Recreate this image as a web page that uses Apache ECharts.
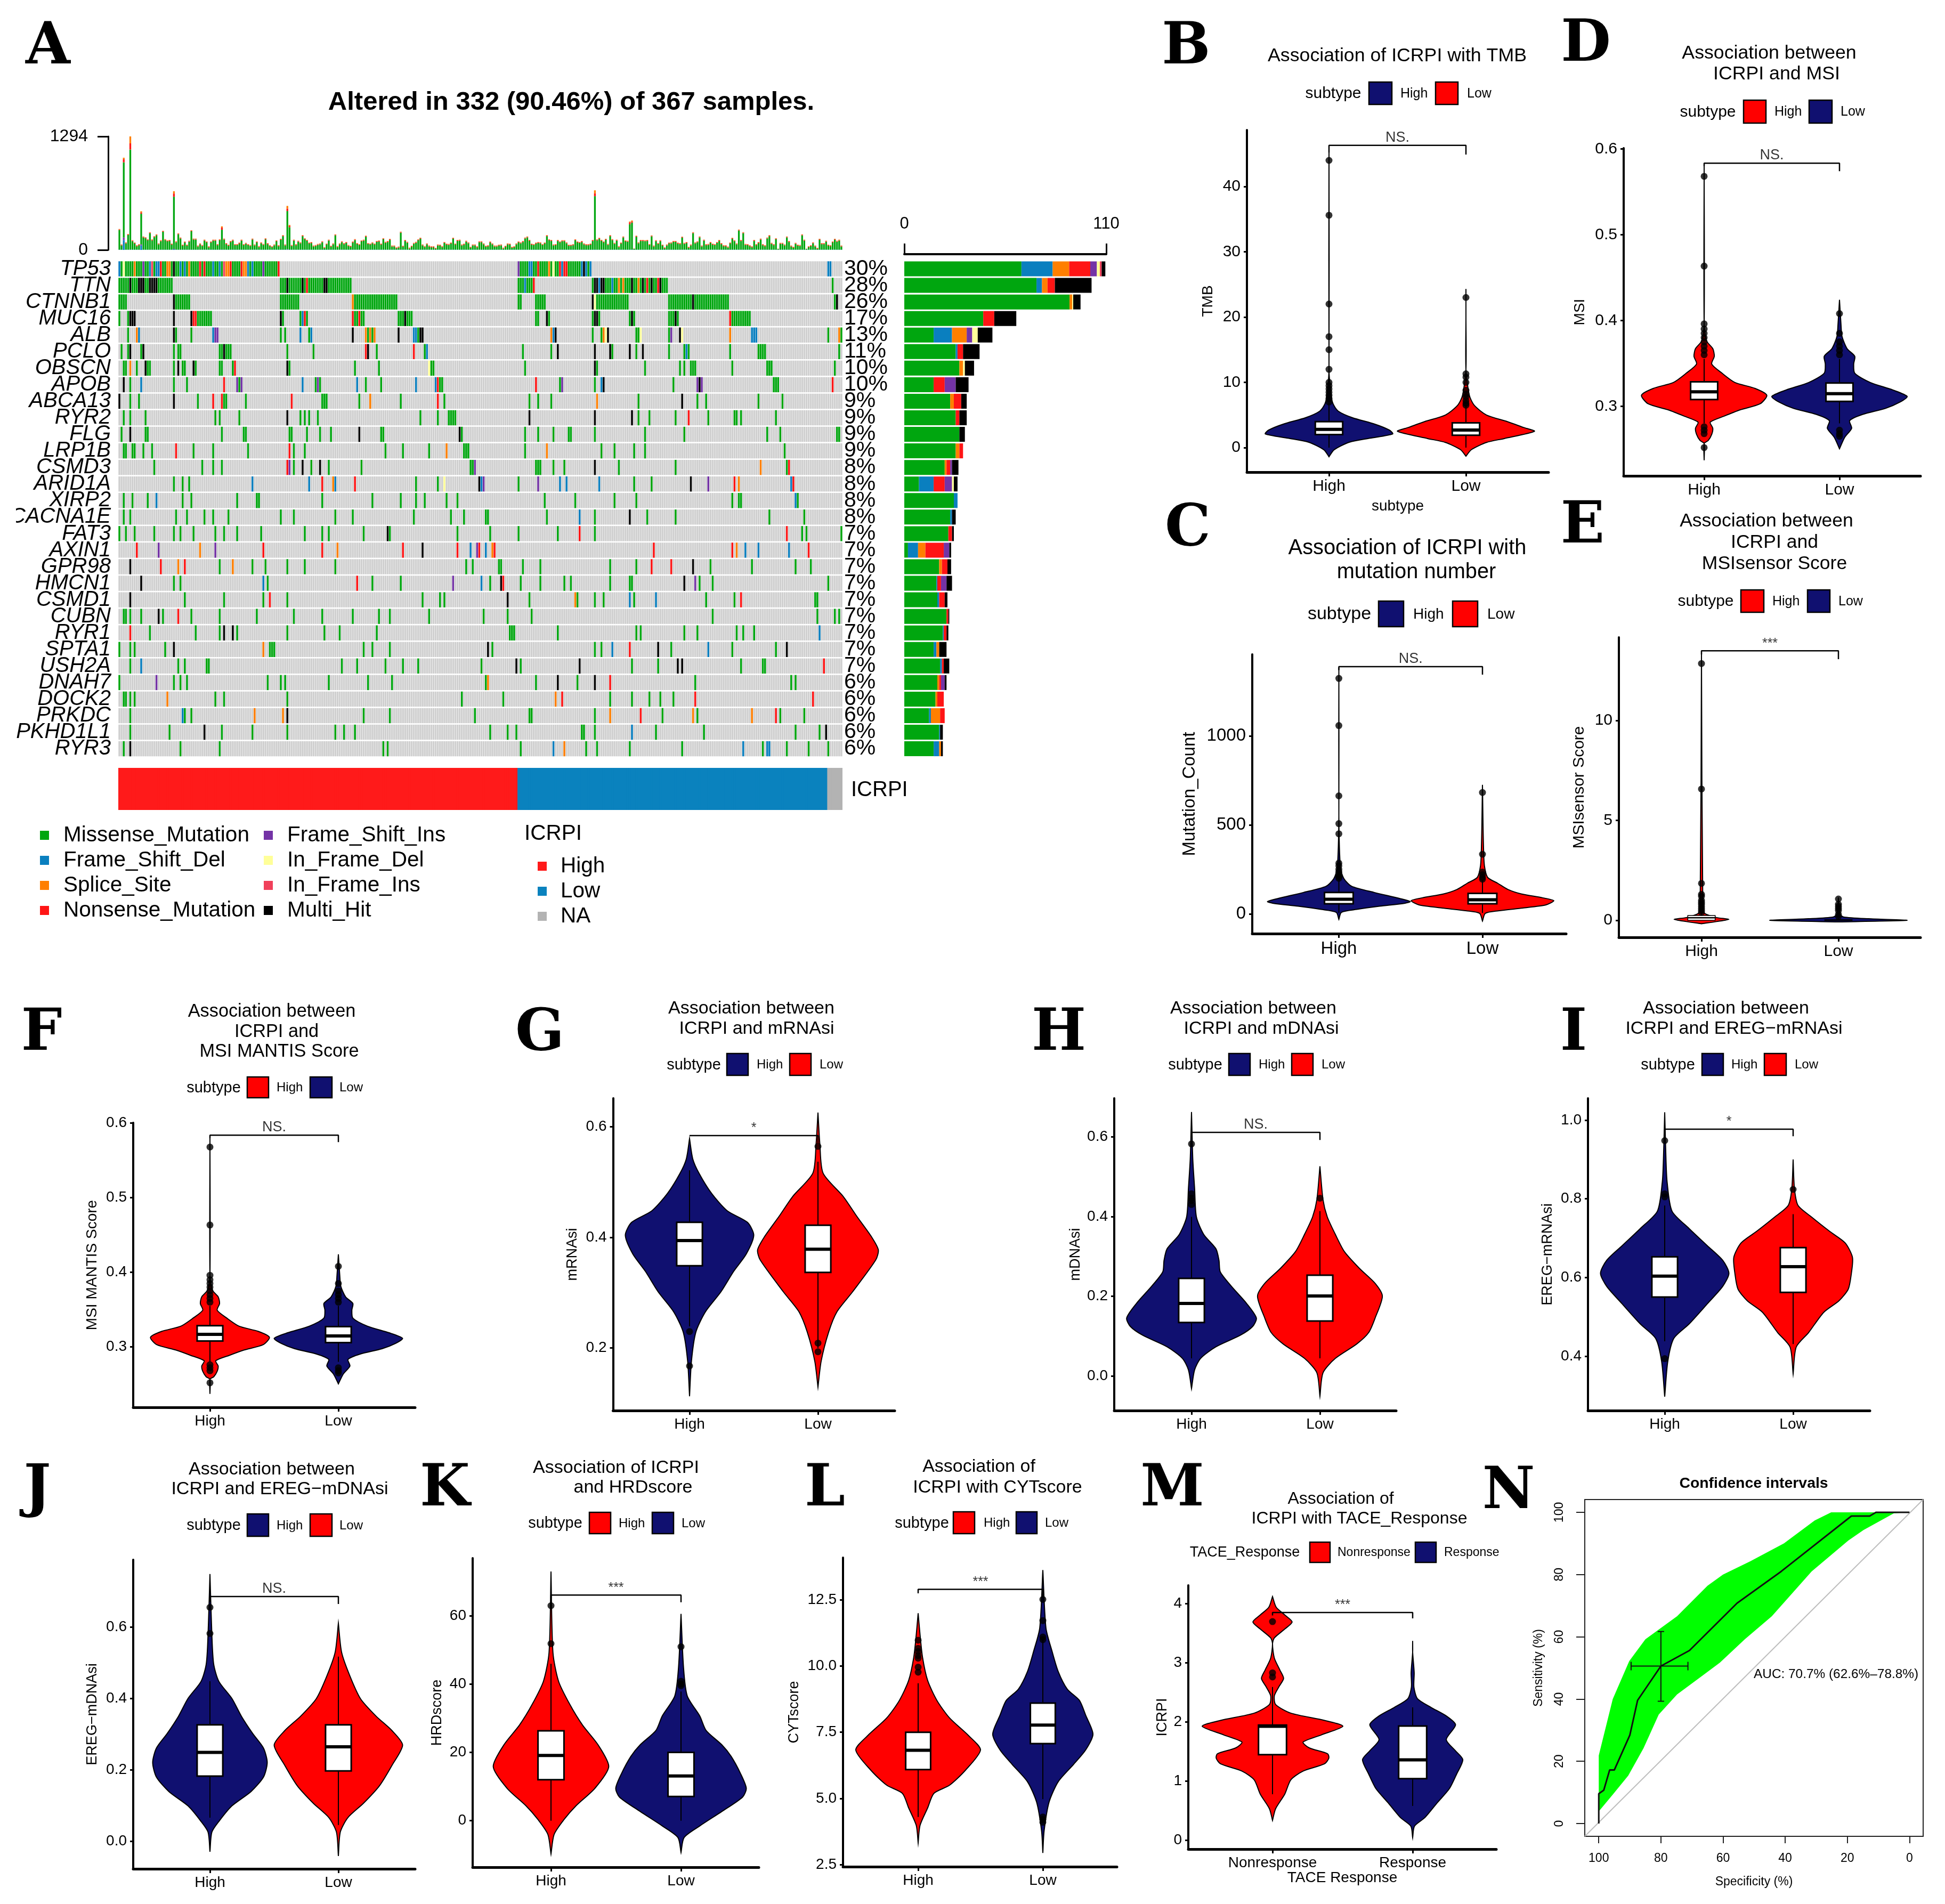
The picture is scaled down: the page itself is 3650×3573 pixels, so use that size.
<!DOCTYPE html>
<html><head><meta charset="utf-8">
<script src="https://cdn.jsdelivr.net/npm/echarts@6/dist/echarts.min.js"></script>
<style>html,body{margin:0;padding:0;background:#fff}#c{width:3650px;height:3573px}</style>
</head><body><div id="c"></div>
<script>
// ---------- Panel A data ----------
const genes=["TP53","TTN","CTNNB1","MUC16","ALB","PCLO","OBSCN","APOB","ABCA13","RYR2","FLG","LRP1B","CSMD3","ARID1A","XIRP2","CACNA1E","FAT3","AXIN1","GPR98","HMCN1","CSMD1","CUBN","RYR1","SPTA1","USH2A","DNAH7","DOCK2","PRKDC","PKHD1L1","RYR3"];
const genePct=[30,28,26,17,13,11,10,10,9,9,9,9,8,8,8,8,7,7,7,7,7,7,7,7,7,6,6,6,6,6];
const typeNames=["Missense_Mutation","Frame_Shift_Del","Splice_Site","Nonsense_Mutation","Frame_Shift_Ins","In_Frame_Del","In_Frame_Ins","Multi_Hit"];
const typeCodes="MDSNIYPH";
const typeColors=["#00A60F","#0A7FBF","#FF7F00","#FF1515","#7433A6","#FFFF99","#F0405A","#000000"];
const geneMarks=[
"0D 1M 2Y 3-6M 7S 8-10M 11I 12-13M 14D 15P 16M 17-18D 19N 20-21M 22-23S 24M 25H 26-27M 28D 29M 30D 31M 32S 33-36M 37N 38M 39N 40-42M 43D 44-45M 46D 47M 48P 49-50S 51N 52-55M 56N 57-58S 59D 60M 61D 62-65M 66I 67-72M 73N 183I 184-187M 188-189D 190-191M 192N 193-196M 197S 198M 199Y 200-201M 202N 203D 204-205N 206-211M 212D 213H 214D 215M 216D 325-326D",
"0-4M 5H 6-8M 9-11H 12-13M 14-17H 18-24M 74-76M 77H 78-83M 84H 85M 86N 87-93M 94-95H 96-106M 183-185M 186D 187-189M 190N 217M 218-219H 220D 221-222H 223-225M 226D 227-228M 229S 230M 231S 232-234M 235H 236-237M 238S 239M 240H 241M 242N 243M 244H 245-246M 247N 248H 249-251M 327M",
"0-3M 25H 26-32M 74-82M 107S 108-127M 183-184M 191-195M 217H 218Y 219-233M 252-262M 263H 264-279M 328M 329H",
"0M 4M 5-7H 25H 33H 34-35N 36-42M 74H 75M 83M 84D 85N 86M 107N 108-109M 110N 111-112M 128-130M 131H 132-134M 191-192M 196H 197M 217M 218-219H 220M 234M 235H 236M 252-254M 255H 256M 280N 281-289M",
"4M 8S 9D 25H 26M 33M 43D 44-45I 74M 76M 83D 87M 88D 107H 113S 114M 115S 116M 117S 128H 135-136D 137M 138-139H 198S 199D 200H 217M 221M 222S 223Y 224H 237-238M 239Y 252M 253I 257H 258Y 280S 290-292D 325M 330S 331M",
"1M 4M 5H 10M 11H 25M 27-28M 46-47M 48H 49-51M 77M 89M 113N 114H 118M 135N 140M 141D 185M 198M 201H 218H 225H 226M 234H 237M 240H 252M 259M 260D 261M 280M 293-296M 330M",
"2-3M 5S 8M 12H 13-14M 25M 27H 29-30M 34H 35M 46-47M 52M 53N 77H 78M 108M 119M 142Y 143-144M 186M 218H 219M 241M 257M 259M 262-264M 281M 297-299M 328M",
"2H 5M 10D 25M 31M 48N 54I 55M 56I 84D 90M 91I 92M 109D 113M 120M 136D 145D 146N 147-148M 191N 202M 203I 218M 221D 222H 254M 265I 266H 267I 300-302M 327N",
"0H 5M 9M 25H 36M 43N 47N 48-49M 58M 79N 93-95M 110M 115S 129M 146N 149M 188M 192M 198M 219S 238M 258H 265M 269M 293M 304M",
"2M 5M 12M 44M 46M 55M 77H 83M 85M 87M 91M 138M 146M 151-154M 188H 218H 235H 238M 243M 255M 261N 270M 282-283M 285M 301M",
"1M 5H 12-13M 47M 57-58M 78-79M 86M 92M 97M 110H 120-121M 156H 157M 186M 192M 199M 206-207M 218M 241M 259M 297M 303M 329-330M",
"2-3M 6-7M 11M 15M 26N 34M 43M 59M 78N 80M 85M 122M 130M 142M 150S 158-160M 186M 196S 221M 227M 236M 241M 305M",
"16M 38M 43M 47M 77N 78I 80M 84H 88M 92H 96M 111M 161-162M 163I 191-193M 199M 204M 218H 229M 255M 294S 306M 307N",
"25M 29M 32M 61D 87D 93N 98S 99D 108N 136M 146M 149Y 165H 166D 167I 183M 192I 202D 205D 220D 236M 244M 262H 270I 282N 284S 308D 309N",
"2M 6M 13M 17D 29M 33M 54M 63-64M 93M 116M 129M 136M 140M 150M 155M 195M 209M 227M 237M 281M 284-285M 310D 311M",
"2M 5M 26M 31M 39M 43M 50M 74M 80M 99M 107M 135M 152M 158M 168-169M 196M 211D 218M 234H 242M 255M 298M 314M",
"0M 3M 7M 16M 25M 28M 34M 44M 48M 54M 65M 85M 93M 96M 112M 123H 124M 155M 170M 183M 201M 211N 218M 306N 313M 315M 331M",
"8N 18I 37S 44I 66N 93N 100S 130N 139H 155N 161D 164I 165N 168D 171S 172N 245N 281N 283S 287D 293D 307D 316N",
"5H 19N 27S 30N 46M 52S 61M 67M 77M 85M 99M 159M 162M 174-175M 185M 193M 225M 237M 244N 253N 263H 271M 290M 310M 317M",
"10H 25M 28M 66D 68M 109N 116M 129M 153I 166D 170M 175H 176N 184M 193M 204M 207M 225M 234-235M 259H 264I 266M 272M 325M",
"5H 30M 48M 66M 69N 77M 139M 147M 149M 178H 188M 209S 210M 218M 222M 234D 236M 246D 269M 282M 285N 319-320M",
"2-3M 5M 10M 18H 20M 27N 33M 46M 63M 80M 93M 107M 119M 124M 142M 167M 178M 189M 272M 320M 328M 330M",
"5N 14M 35M 46M 48H 52H 54M 77M 94M 101M 118M 179-181M 201M 237M 239M 259M 265M 283M 286M 291M 321D",
"0M 5M 7M 21M 25H 66S 69-71M 112M 116M 124M 169H 171M 218M 221M 226D 234N 247H 253M 270D 281M 301M 306H",
"5M 10D 27M 30M 40-41M 102M 109M 122M 130M 137M 166M 182H 184M 211H 235M 247M 256H 258H 285M 295-296M 323N",
"0M 17I 25M 28M 31M 68M 74M 76M 96M 114M 125M 168M 169S 191M 201H 210M 218H 225N 264M 308M 310M",
"2-3M 5M 7M 22S 44M 48M 77M 157M 176M 200S 203N 225M 235M 243M 248M 254M 264N 318N",
"5M 29D 30M 33M 62S 75S 77H 112M 124M 163M 188-189M 218M 225S 239N 249M 263S 265M 290S 301N 303M 314M",
"5M 23M 39H 47M 61M 77M 99M 103M 108M 170M 178M 182M 212-213M 218M 235D 246M 268M 310M 321M 324H",
"2M 5H 28M 46M 121M 123M 184M 199D 204S 214M 219M 234M 258M 286D 295M 297-298D 306M 316M 325M"];
// gene totals per mutation type (M,D,S,N,I,Y,P,H)
const geneTypeCounts=[[63.8,17,9,11.5,3.6,1.6,1,2],[72,3,3,4,0,0,0,20],[90,0,1.5,0,0,0.5,0,4],[43,0,0,6,0,0,0,12],[16,10,8,0,3,3,0,8],[28,1,0,3,0,0,0,9],[30,0,2,0,0,1,0,5],[16,0,0,6,6,0,0,7],[25,0,2,4,0,0,0,3],[28,0,0,2,0,0,0,4],[30,0,0,0,0,0,0,3],[28,0,2,2,0,0,0,0],[22,0,1,2,1,0,0,3.5],[8,8,0,6,4,1,0,2],[27,2,0,0,0,0,0,0],[25,1,0,0,0,0,0,2],[24,0,0,2,0,0,0,1],[2,5.5,4,10,3,0,0,1],[19,0,1.5,3,0,0,0,2],[17.5,0.5,0,2,3,0,0,3],[18,1,0,3,0,0,0,1.5],[23,0,0,1,0,0,0,0.5],[21,0.5,0,1.5,0,0,0,1],[16,1.5,1.5,0,0,0,0,4],[19.5,1,0,1,0,0,0,3],[18,0,1,1,2,0,0,1],[17,0,1,3.5,0,0,0,0],[13.5,1,5,2.5,0,0,0,0],[19,0.5,0,0,0,0,0,1.5],[16,3,1,0,0,0,0,1]];
// per-sample burden, read in crop pixels (1294 mutations = 640 px)
const burdenReadings=[118,31,520,43,90,640,55,42,26,32,218,76,71,60,100,59,77,88,37,55,108,61,54,56,36,331,49,94,70,30,47,30,52,111,64,64,25,37,28,58,48,20,48,58,58,32,60,133,64,38,29,50,58,33,33,41,58,33,40,33,28,64,31,48,22,43,34,65,38,27,21,31,54,26,63,83,31,248,141,28,58,32,52,43,83,66,57,42,44,25,28,34,37,49,16,36,58,24,37,88,22,37,49,38,45,28,23,47,61,39,33,54,58,80,39,36,43,36,51,53,36,66,46,50,62,25,25,14,19,103,24,56,46,13,24,40,46,60,69,31,22,37,25,20,20,12,31,30,22,45,35,34,42,69,36,56,58,31,35,52,43,18,31,31,20,49,
49,37,24,26,47,37,25,25,30,31,13,23,37,35,18,21,37,48,43,50,70,76,57,35,33,41,45,43,33,42,83,60,56,31,33,56,48,55,55,43,29,29,32,60,48,45,50,37,32,32,36,56,336,59,68,57,48,63,34,83,61,40,58,22,42,76,54,52,160,166,8,80,43,56,56,55,56,33,82,25,55,39,55,30,14,31,42,43,51,51,41,38,75,40,44,18,31,100,43,49,76,25,58,32,34,45,35,33,45,56,38,26,26,19,42,68,55,37,115,56,100,34,33,26,20,56,32,44,64,32,26,70,83,40,32,66,7,40,40,31,76,50,25,18,40,30,28,88,58,7,21,27,43,25,12,63,38,38,52,30,26,48,63,52,58,25];
const burdenPerReading=1294/640;
const burdenSpikes={2:[17,9,55,15],5:[35,39,2,0],10:[7,7,25,6],25:[18,13,3,3],47:[12,7,2,0],77:[14,15,2,2],78:[8,5,2,0],218:[16,17,2,0],234:[10,5,2,0],235:[6,6,2,0]}; // red, orange, blue, purple
const annotationNames=["High","Low","NA"];
const annotationCounts=[183,142,7];
const annotationColors=["#FF1A1A","#0A82BE","#B3B3B3"];

// ---------- Violin data: [value, half width in x units] ----------
const tmbHigh=[[-1.4,0],[-.33,.037],[.84,.15],[1.45,.3],[2.1,.465],[2.7,.44],[3.6,.335],[4.6,.17],[5.6,.067],[6.7,.03],[8.1,.015],[12,.004],[46.2,.002]];
const tmbLow=[[-1.3,0],[-.3,.04],[.8,.15],[1.4,.28],[2.5,.5],[3.1,.42],[4,.3],[5,.15],[6.5,.06],[8,.025],[12,.005],[20,.003],[24.3,0]];
const msiHigh=[[.2369,0],[.2565,.008],[.26,.03],[.2672,.056],[.2743,.064],[.2814,.045],[.2886,.15],[.2957,.264],[.3029,.414],[.3128,.463],[.3207,.377],[.3278,.226],[.3385,.132],[.3492,.056],[.3582,.075],[.3671,.064],[.376,.019],[.3956,.008],[.5836,.004]];
const msiLow=[[.2504,0],[.2636,.038],[.2743,.09],[.2832,.075],[.2904,.17],[.2975,.34],[.3046,.444],[.3114,.5],[.3189,.395],[.3278,.226],[.3385,.113],[.3492,.105],[.3582,.113],[.3671,.056],[.3813,.019],[.3956,.011],[.4241,0]];
const countHigh=[[-31,0],[8.6,.018],[25,.124],[43,.284],[60,.461],[69,.497],[86,.426],[120,.248],[155,.089],[198,.035],[258,.011],[550,.007],[1383,.0035]];
const countLow=[[-40,0],[3,.02],[17,.11],[33,.28],[50,.44],[74,.497],[90,.42],[112,.27],[137,.177],[172,.106],[206,.035],[292,.011],[725,0]];
const sensorHigh=[[-.17,0],[-.06,.11],[.05,.2],[.14,.11],[.32,.03],[.47,.01],[13.5,.004]];
const sensorLow=[[-.08,0],[0,.5],[.08,.22],[.17,.037],[.32,.011],[1.15,0]];
const mrnaHigh=[[.1128,0],[.1765,.015],[.2287,.049],[.2653,.123],[.3018,.245],[.3384,.343],[.3697,.441],[.4037,.5],[.4272,.451],[.448,.294],[.4794,.172],[.5159,.074],[.542,.025],[.5786,.005]];
const mrnaLow=[[.1295,0],[.1765,.025],[.2287,.083],[.2653,.147],[.3018,.27],[.3593,.45],[.3775,.47],[.401,.417],[.4376,.304],[.4742,.196],[.516,.04],[.568,.015],[.6256,0]];
const mdnaHigh=[[-.032,0],[.015,.024],[.044,.071],[.073,.19],[.102,.38],[.124,.476],[.1455,.505],[.1818,.429],[.225,.31],[.261,.224],[.29,.214],[.319,.19],[.355,.095],[.399,.038],[.471,.024],[.544,.01],[.662,0]];
const mdnaLow=[[-.051,0],[.008,.024],[.044,.12],[.08,.286],[.109,.38],[.1455,.43],[.2,.486],[.232,.43],[.269,.31],[.312,.19],[.355,.12],[.399,.057],[.442,.024],[.526,0]];
const eregmHigh=[[.2972,0],[.3868,.024],[.4455,.071],[.482,.19],[.5337,.333],[.5777,.452],[.6108,.5],[.6438,.452],[.6806,.333],[.7246,.19],[.7687,.057],[.842,.019],[.9,.01],[1.02,0]];
const eregmLow=[[.3552,0],[.4235,.024],[.46,.12],[.5116,.238],[.541,.357],[.5704,.429],[.607,.452],[.6512,.462],[.688,.405],[.717,.286],[.754,.143],[.7834,.038],[.827,.01],[.9,0]];
const eregdHigh=[[-.029,0],[.026,.015],[.058,.074],[.099,.17],[.1395,.32],[.18,.417],[.2206,.446],[.261,.417],[.3017,.333],[.35,.245],[.399,.172],[.4477,.069],[.496,.029],[.5775,.015],[.7478,0]];
const eregdLow=[[-.041,0],[.026,.015],[.0665,.074],[.107,.196],[.1557,.32],[.2125,.417],[.2693,.5],[.31,.417],[.35,.294],[.399,.172],[.464,.088],[.529,.025],[.61,0]];
const hrdHigh=[[-9.7,0],[-4,.024],[.2,.097],[4.4,.193],[9.5,.338],[15.8,.444],[22.2,.362],[28,.242],[34,.145],[40.8,.058],[49.2,.015],[72.9,0]];
const hrdLow=[[-9.3,0],[-4.9,.024],[-1.5,.145],[2.7,.314],[6.9,.473],[9.5,.502],[13.7,.459],[18.8,.386],[22.2,.314],[26.4,.193],[30.6,.145],[36.5,.048],[45,.019],[60.5,0]];
const cytHigh=[[3.32,0],[3.98,.015],[4.64,.076],[5.19,.126],[5.5,.252],[6.06,.378],[6.83,.5],[7.38,.403],[8.04,.252],[8.7,.151],[9.46,.076],[10.34,.035],[11.2,.015],[12,0]];
const cytLow=[[2.94,0],[3.76,.01],[4.86,.05],[5.63,.123],[6.28,.245],[6.83,.343],[7.43,.402],[8.15,.343],[8.7,.294],[9.13,.196],[9.8,.123],[10.56,.074],[11.44,.025],[13.63,0]];
const taceNon=[[.333,0],[.53,.022],[.775,.087],[1.02,.131],[1.167,.218],[1.29,.371],[1.387,.402],[1.46,.393],[1.56,.262],[1.657,.218],[1.78,.349],[1.926,.502],[2.025,.371],[2.147,.131],[2.294,.022],[2.44,.013],[2.588,.044],[2.735,.079],[2.88,.052],[3.08,.013],[3.32,.003],[3.42,.013],[3.57,.087],[3.69,.14],[3.81,.087],[3.94,.026],[4.12,0]];
const taceRes=[[.04,0],[.235,.013],[.38,.087],[.63,.175],[.87,.262],[1.118,.314],[1.36,.358],[1.51,.306],[1.7,.24],[1.95,.306],[2.1,.24],[2.245,.131],[2.39,.035],[2.59,.009],[2.83,.011],[3.18,.004],[3.37,0]];
// ---------- Outlier values ----------
const tmbOutHigh=[44,35.6,22,17,15,12,10,9.5,9,8.5,8,7.5,7];
const tmbOutLow=[23,11.3,10.8,10,8.8,8.2,7.8,7.2,6.8,6.5];
const msiOutHigh=[.568,.4634,.396,.39,.385,.38,.375,.37,.365,.36,.276,.272,.268,.2518];
const msiOutLow=[.408,.385,.375,.37,.365,.36,.272,.268,.265];
const countOutHigh=[1323,1058,663,507,450,285,270,250,235,220,210,200];
const countOutLow=[682,335,235,220,205,195];
const sensorOutHigh=[12.85,6.57,1.85,1.3,1.2,1,.9,.8,.7,.6,.5,.4];
const sensorOutLow=[1.07,.8,.7,.6,.5,.3,.2];
const mrnaOutHigh=[.2298,.1676];const mrnaOutLow=[.5645,.2089,.1932];
const mdnaOutHigh=[.582,.457,.446,.44,.43];const mdnaOutLow=[.446];
const eregmOutHigh=[.9479,.8128,.805,.394];const eregmOutLow=[.824];
const eregdOutHigh=[.6545,.5815];
const hrdOutHigh=[62.9,51.8];const hrdOutLow=[50.9,40.8,40,39.5];
const cytOutHigh=[10.98,10.67,10.55,10.4,10.3,9.96,9.77];const cytOutLow=[12.52,11.72,11.1,11,4.3,4.2,4.1];
const taceOutHigh=[3.696,2.83,2.76];
// ---------- ROC ----------
const rocLine=[[100,0],[100,9.6],[98.4,10.7],[96.5,17.2],[95,17.2],[90,28.4],[87.5,39.6],[80,50.6],[70.8,55.6],[55.5,70.8],[41.3,81],[18.7,98.8],[12.8,98.8],[10.8,100],[0,100]];
const rocUpper=[[100,21.9],[95.5,40],[90.2,52.2],[85,59.2],[74.8,66.6],[65,76.4],[60,80],[51.2,84.3],[40.4,90],[30.5,97.4],[25.2,100],[0,100]];
const rocLower=[[100,3.9],[95.5,9.3],[90.5,15.4],[85.6,24.2],[80.7,35],[74.8,41.5],[66,48],[61,51.7],[53,59.2],[44.3,66.6],[31.5,81],[19.7,90.9],[14.8,94.3],[5,99.7],[0,100]];
const rocCross=[80,50.6,89.6,71.3,61.7,39.3];
const rocTicks=[0,20,40,60,80,100];

const NAVY="#101070",RED="#FF0000",FONT="Liberation Sans";
// box: [low whisker,q1,median,q3,high whisker]
const panels=[
{rect:[2340,244,2906,886],xt:[2494,2751],y:[-3.75,48.65],ticks:[0,10,20,30,40],dec:0,name:"TMB",gap:59,nfs:28,fs:30,xfs:30,xname:"subtype",xnameGap:50,cols:[NAVY,RED],v:[tmbHigh,tmbLow],box:[[0,2,2.8,3.98,6.9],[0,1.9,2.7,3.8,6.5]],out:[tmbOutHigh,tmbOutLow],br:[46.3,45.2,44.9],sig:"NS."},
{rect:[3047,278,3604,893],xt:[3198,3452],y:[.2188,.6009],ticks:[.3,.4,.5,.6],dec:1,name:"MSI",gap:68,nfs:28,fs:30,xfs:30,cols:[RED,NAVY],v:[msiHigh,msiLow],box:[[.28,.3078,.3168,.3285,.355],[.28,.3057,.3146,.3271,.355]],out:[msiOutHigh,msiOutLow],br:[.5834,.58,.5741],sig:"NS."},
{rect:[2350,1228,2939,1752],xt:[2512.5,2782],y:[-111,1458],ticks:[0,500,1000],dec:0,name:"Mutation_Count",gap:101,nfs:33,fs:33,xfs:33,cols:[NAVY,RED],v:[countHigh,countLow],box:[[5,57,82,120,195],[5,57,79,115,190]],out:[countOutHigh,countOutLow],br:[1389,1370,1344],sig:"NS."},
{rect:[3038,1196,3604,1759],xt:[3193,3450],y:[-.85,14.16],ticks:[0,5,10],dec:0,name:"MSIsensor Score",gap:59,nfs:30,fs:30,xfs:30,cols:[RED,NAVY],v:[sensorHigh,sensorLow],box:[[0,0,.13,.24,.4],[0,0,.01,.03,.1]],out:[sensorOutHigh,sensorOutLow],br:[13.49,13.3,13.07],sig:"***"},
{rect:[250,2107,779,2641],xt:[394,635],y:[.2189,.6005],ticks:[.3,.4,.5,.6],dec:1,name:"MSI MANTIS Score",gap:63,nfs:28,fs:28,xfs:28,cols:[RED,NAVY],v:[msiHigh,msiLow],box:[[.28,.3078,.3168,.3285,.355],[.28,.3057,.3146,.3271,.355]],out:[msiOutHigh,msiOutLow],br:[.5839,.58,.5746],sig:"NS."},
{rect:[1150.5,2061,1679,2647],xt:[1294,1535],y:[.087,.6515],ticks:[.2,.4,.6],dec:1,name:"mRNAsi",gap:62,nfs:27,fs:28,xfs:28,cols:[NAVY,RED],v:[mrnaHigh,mrnaLow],box:[[.2392,.3488,.3943,.4272,.5211],[.2,.3368,.3786,.4219,.5368]],out:[mrnaOutHigh,mrnaOutLow],br:[.5841,.5841,.57],sig:"*"},
{rect:[2091,2061,2620,2647],xt:[2236,2477],y:[-.0869,.6965],ticks:[0,.2,.4,.6],dec:1,name:"mDNAsi",gap:59,nfs:27,fs:28,xfs:28,cols:[NAVY,RED],v:[mdnaHigh,mdnaLow],box:[[.044,.134,.1818,.2447,.399],[.044,.1376,.2006,.2527,.4135]],out:[mdnaOutHigh,mdnaOutLow],br:[.611,.6,.592],sig:"NS."},
{rect:[2980,2061,3509,2647],xt:[3124,3365],y:[.262,1.0556],ticks:[.4,.6,.8,1],dec:1,name:"EREG\u2212mRNAsi",gap:62,nfs:27,fs:28,xfs:28,cols:[NAVY,RED],v:[eregmHigh,eregmLow],box:[[.438,.5506,.6035,.6527,.783],[.431,.5623,.6277,.6762,.761]],out:[eregmOutHigh,eregmOutLow],br:[.977,.96,.959],sig:"*"},
{rect:[250,2927,779,3507],xt:[394,635],y:[-.0767,.7876],ticks:[0,.2,.4,.6],dec:1,name:"EREG\u2212mDNAsi",gap:63,nfs:27,fs:28,xfs:28,cols:[NAVY,RED],v:[eregdHigh,eregdLow],box:[[.0665,.1825,.249,.326,.4477],[.046,.197,.2644,.326,.5166]],out:[eregdOutHigh,[]],br:[.6848,.67,.664],sig:"NS."},
{rect:[887,2924,1424,3504],xt:[1034,1278],y:[-13.6,76.8],ticks:[0,20,40,60],dec:0,name:"HRDscore",gap:53,nfs:27,fs:28,xfs:28,cols:[RED,NAVY],v:[hrdHigh,hrdLow],box:[[0,12,19.1,26.3,45.9],[0,7.1,13.1,20,37.8]],out:[hrdOutHigh,hrdOutLow],br:[66,65,63.9],sig:"***"},
{rect:[1582,2923,2096,3503],xt:[1723,1957],y:[2.42,14.1],ticks:[2.5,5,7.5,10,12.5],dec:1,name:"CYTscore",gap:78,nfs:27,fs:28,xfs:28,cols:[RED,NAVY],v:[cytHigh,cytLow],box:[[4.3,6.09,6.82,7.5,9.35],[4.97,7.07,7.77,8.6,11.1]],out:[cytOutHigh,cytOutLow],br:[12.9,12.75,12.6],sig:"***"},
{rect:[2230,2975,2808,3470],xt:[2388,2651],y:[-.153,4.31],ticks:[0,1,2,3,4],dec:0,name:"ICRPI",gap:35,nfs:27,fs:28,xfs:28,cats:["Nonresponse","Response"],xname:"TACE Response",xnameGap:40,cols:[RED,NAVY],v:[taceNon,taceRes],box:[[.775,1.446,1.926,1.946,2.59],[.578,1.04,1.358,1.93,2.245]],out:[taceOutHigh,[]],br:[3.85,3.8,3.75],sig:"***"}
];
const violinCats=["High","Low"];
// letters: [text, centre x, centre y]
const letters=[["A",90,91],["B",2226,91],["D",2976,86],["C",2229,995],["E",2970,990],["F",78,1942],["G",1013,1942],["H",1987,1942],["I",2953,1942],["J",70,2797],["K",835,2797],["L",1548,2797],["M",2200,2797],["N",2831,2802]];
// titles: [text, centre x, centre y, size]
const titles=[["Association of ICRPI with TMB",2622,105,35.7],["Association between",3320,100,35.7],["ICRPI and MSI",3334,139,35.7],["Association of ICRPI with",2641,1029,39.8],["mutation number",2658,1074,39.8],["Association between",3315,978,35.5],["ICRPI and",3330,1018,35.5],["MSIsensor Score",3330,1058,35.5],["Association between",510,1899,34.3],["ICRPI and",519,1937,34.3],["MSI MANTIS Score",524,1974,34.3],["Association between",1410,1893,34],["ICRPI and mRNAsi",1420,1931,34],["Association between",2352,1893,34],["ICRPI and mDNAsi",2367,1931,34],["Association between",3239,1893,34],["ICRPI and EREG\u2212mRNAsi",3254,1931,34],["Association between",510,2758,34],["ICRPI and EREG\u2212mDNAsi",525,2795,34],["Association of ICRPI",1156,2755,34],["and HRDscore",1188,2792,34],["Association of",1837,2753,34],["ICRPI with CYTscore",1872,2792,34],["Association of",2516,2813,32],["ICRPI with TACE_Response",2551,2850,32]];
// violin legends: title, cx, y0,y1, swatch1 x0,x1, label1 x, col1, swatch2 x0,x1, label2 x, col2, title size, label size, label names
const vLegends=[
["subtype",2502,154,196,2569,2612,2628,NAVY,2694,2736,2753,RED,30,25],
["subtype",3205,188,231,3272,3314,3330,RED,3395,3438,3454,NAVY,30,25],
["subtype",2513.5,1128,1176,2587,2634,2652,NAVY,2726,2773,2791,RED,34,28],
["subtype",3201,1107,1149,3267,3310,3326,RED,3392,3434,3450,NAVY,30,25],
["subtype",401,2021,2060,464,504,519,RED,582,623,637,NAVY,29,24],
["subtype",1302,1977,2018,1364,1404,1420,NAVY,1482,1522,1538,RED,29,24],
["subtype",2243,1977,2018,2306,2346,2362,NAVY,2424,2464,2480,RED,29,24],
["subtype",3130,1977,2018,3194,3234,3249,NAVY,3311,3352,3368,RED,29,24],
["subtype",401,2841,2883,464,504,519,NAVY,582,623,637,RED,29,24],
["subtype",1042,2838,2878,1106,1146,1161,RED,1224,1264,1279,NAVY,29,24],
["subtype",1730,2837,2878,1789,1829,1846,RED,1907,1946,1961,NAVY,29,24],
["TACE_Response",2336,2894,2932,2458,2496,2510,RED,2656,2695,2710,NAVY,27,23,"Nonresponse","Response"]];

// ---------- Build ----------
const N=burdenReadings.length;
const grid=[],xAxis=[],yAxis=[],series=[],graphic=[];
function addText(t,x,y,fs,o){graphic.push(Object.assign({type:"text",x,y,z:50,silent:true,style:{text:t,fontSize:fs,fontFamily:(o&&o.ff)||FONT,fontWeight:(o&&o.fw)||"normal",fill:"#000",align:(o&&o.al)||"center",verticalAlign:(o&&o.va)||"middle"}}));}
function addRect(x,y,w,h,fill,stroke,lw,z){graphic.push({type:"rect",z:z||50,silent:true,shape:{x,y,width:w,height:h},style:{fill,stroke:stroke||null,lineWidth:lw||0}});}

// A: burden bars
const sampleIds=Array.from({length:N},(_,i)=>i);
grid.push({left:222,top:256,width:1359,height:213});
xAxis.push({gridIndex:0,type:"category",data:sampleIds,show:false});
yAxis.push({gridIndex:0,type:"value",min:0,max:1294,offset:19,axisLine:{show:true,onZero:false,lineStyle:{color:"#000",width:3}},axisTick:{show:true,length:20,lineStyle:{width:3,color:"#000"},customValues:[0,1294]},axisLabel:{fontFamily:FONT,fontSize:32,color:"#000",margin:38,customValues:[0,1294],formatter:v=>String(v)},splitLine:{show:false}});
function burdenPart(i,part){const r=burdenReadings[i],s=burdenSpikes[i]||[r>10?3.5:1,r>10?2:0.5,1.5,0];
  const v=[s[2],s[3],r-s[0]-s[1]-s[2]-s[3],s[0],s[1]][part];return Math.max(v,0)*burdenPerReading;}
[[1,0],[4,1],[0,2],[3,3],[2,4]].forEach(([ci,part])=>{series.push({type:"bar",xAxisIndex:0,yAxisIndex:0,stack:"burden",barWidth:3.3,silent:true,itemStyle:{color:typeColors[ci]},data:sampleIds.map(i=>burdenPart(i,part))});});

// A: matrix
grid.push({left:222,top:489,width:1359,height:931.6});
xAxis.push({gridIndex:1,type:"category",data:sampleIds,show:false});
yAxis.push({gridIndex:1,type:"category",data:genes,inverse:true,axisLine:{show:false},axisTick:{show:false},axisLabel:{interval:0,fontFamily:FONT,fontStyle:"italic",fontSize:40,color:"#000",margin:14,padding:[3,0,0,0]}});
yAxis.push({gridIndex:1,type:"category",position:"right",data:genePct.map(p=>p+"%"),inverse:true,axisLine:{show:false},axisTick:{show:false},axisLabel:{interval:0,fontFamily:FONT,fontSize:41,color:"#000",margin:3,padding:[3,0,0,0]}});
const cellData=[];
geneMarks.forEach((str,g)=>{const row=new Array(N).fill(-1);
  str.split(" ").forEach(tok=>{const t=typeCodes.indexOf(tok.slice(-1));const r=tok.slice(0,-1).split("-").map(Number);for(let k=r[0];k<=(r[1]===undefined?r[0]:r[1]);k++)if(k<N)row[k]=t;});
  row.forEach((t,i)=>cellData.push([i,g,t]));});
function cellItem(p,api){const c=api.coord([api.value(0),api.value(1)]),s=api.size([1,1]),t=api.value(2);const w=s[0]-0.55,h=s[1]-2.6;
  return{type:"rect",shape:{x:c[0]-w/2,y:c[1]-h/2,width:w,height:h},style:{fill:t<0?"#D0D0D0":typeColors[t]}};}
series.push({type:"custom",xAxisIndex:1,yAxisIndex:1,silent:true,data:cellData,encode:{x:0,y:1},progressive:0,renderItem:cellItem});

// A: right stacked bars
grid.push({left:1697,top:489,width:379,height:931.6});
xAxis.push({gridIndex:2,type:"value",position:"top",min:0,max:110,offset:12,axisLine:{show:true,onZero:false,lineStyle:{color:"#000",width:4}},axisTick:{show:true,length:20,lineStyle:{color:"#000",width:3},customValues:[0,110]},axisLabel:{fontFamily:FONT,fontSize:31,color:"#000",margin:41,customValues:[0,110]},splitLine:{show:false}});
yAxis.push({gridIndex:2,type:"category",data:genes,inverse:true,show:false});
typeNames.forEach((n,ti)=>{series.push({type:"bar",xAxisIndex:2,yAxisIndex:3,stack:"g",barWidth:28,silent:true,itemStyle:{color:typeColors[ti]},data:geneTypeCounts.map(r=>r[ti])});});

// A: annotation strip
grid.push({left:222,top:1441,width:1359,height:79});
xAxis.push({gridIndex:3,type:"category",data:sampleIds,show:false});
yAxis.push({gridIndex:3,type:"category",data:["ICRPI"],show:false});
const annData=[];{let i=0;annotationCounts.forEach((c,k)=>{for(let j=0;j<c;j++)annData.push([i++,0,k]);});}
series.push({type:"custom",xAxisIndex:3,yAxisIndex:4,silent:true,data:annData,encode:{x:0,y:1},progressive:0,renderItem(p,api){const c=api.coord([api.value(0),0]),s=api.size([1,1]);return{type:"rect",shape:{x:c[0]-s[0]/2,y:c[1]-s[1]/2,width:s[0]+(api.value(0)<N-1?1:0),height:s[1]},style:{fill:annotationColors[api.value(2)]}};}});

// A: texts
addText("Altered in 332 (90.46%) of 367 samples.",1072,192,49,{fw:"bold"});
addText("ICRPI",1597,1483,40,{al:"left"});
const legY=[1568,1615,1662,1709];
typeNames.forEach((n,i)=>{const col=i<4?0:1,ry=legY[i%4];
  addRect(col?495:75,ry-9,17,17,typeColors[i]);addText(n,col?539:119,ry,40.5,{al:"left"});});
addText("ICRPI",984,1565,40.5,{al:"left"});
annotationNames.forEach((n,i)=>{const ry=[1626,1673,1720][i];addRect(1009,ry-9,17,17,annotationColors[i]);addText(n,1052,ry,40.5,{al:"left"});});
addRect(0,489+15*31.05,30,31,"#fff",null,0,60);

letters.forEach(l=>addText(l[0],l[1],l[2],108,{ff:"DejaVu Serif",fw:"bold"}));
titles.forEach(t=>addText(t[0],t[1],t[2],t[3]));
vLegends.forEach(L=>{const cy=(L[2]+L[3])/2;addText(L[0],L[1],cy+1,L[12]);
  addRect(L[4],L[2],L[5]-L[4],L[3]-L[2],L[7],"#000",2.5);addText(L[14]||"High",L[6],cy+1,L[13],{al:"left"});
  addRect(L[8],L[2],L[9]-L[8],L[3]-L[2],L[11],"#000",2.5);addText(L[15]||"Low",L[10],cy+1,L[13],{al:"left"});});

// Violin panels
panels.forEach((p)=>{
  const gi=grid.length,[l,t,r,b]=p.rect,unit=p.xt[1]-p.xt[0],xmin=1-(p.xt[0]-l)/unit,xmax=2+(r-p.xt[1])/unit;
  const cats=p.cats||violinCats;
  grid.push({left:l,top:t,width:r-l,height:b-t});
  xAxis.push({gridIndex:gi,type:"value",min:xmin,max:xmax,name:p.xname||"",nameLocation:"middle",nameGap:p.xnameGap||0,nameMoveOverlap:false,nameTextStyle:{fontFamily:FONT,fontSize:28,color:"#000"},
    axisLine:{show:true,onZero:false,lineStyle:{color:"#000",width:5}},axisTick:{show:true,length:8,lineStyle:{color:"#000",width:3},customValues:[1,2]},
    axisLabel:{fontFamily:FONT,fontSize:p.xfs,color:"#000",margin:12,customValues:[1,2],formatter:v=>cats[Math.round(v)-1]},splitLine:{show:false}});
  const yi=yAxis.length;
  yAxis.push({gridIndex:gi,type:"value",min:p.y[0],max:p.y[1],name:p.name,nameLocation:"middle",nameRotate:90,nameGap:p.gap,nameMoveOverlap:false,nameTextStyle:{fontFamily:FONT,fontSize:p.nfs,color:"#000"},
    axisLine:{show:true,onZero:false,lineStyle:{color:"#000",width:4}},axisTick:{show:true,length:6,lineStyle:{color:"#000",width:3},customValues:p.ticks},
    axisLabel:{fontFamily:FONT,fontSize:p.fs,color:"#000",margin:12,padding:[4,0,0,0],customValues:p.ticks,formatter:v=>v.toFixed(p.dec)},splitLine:{show:false}});
  const xi=xAxis.length-1;
  [0,1].forEach(k=>{const center=k+1,shape=p.v[k],box=p.box[k],col=p.cols[k];
    series.push({type:"custom",xAxisIndex:xi,yAxisIndex:yi,silent:true,z:2,data:[[center,box[2]]],encode:{x:0,y:1},renderItem(pr,api){
      // tails narrower than the outline collapse to a single black line
      const hw=h=>(h*unit<2.2?0:h);
      const pts=[];shape.forEach(s=>pts.push(api.coord([center+hw(s[1]),s[0]])));for(let i=shape.length-1;i>=0;i--)pts.push(api.coord([center-hw(shape[i][1]),shape[i][0]]));
      const X=v=>api.coord([v,box[2]])[0],Y=v=>api.coord([center,v])[1];
      const x0=X(center-.1),x1=X(center+.1),xc=X(center),thin=Y(box[1])-Y(box[3])<14;
      return{type:"group",children:[
        {type:"polygon",shape:{points:pts,smooth:0.25},style:{fill:col,stroke:"#000",lineWidth:2}},
        {type:"line",shape:{x1:xc,y1:Y(box[0]),x2:xc,y2:Y(box[4])},style:{stroke:"#000",lineWidth:2}},
        {type:"rect",shape:{x:x0,y:Y(box[3]),width:x1-x0,height:Y(box[1])-Y(box[3])},style:{fill:"#fff",stroke:"#000",lineWidth:thin?1.5:3}},
        {type:"line",shape:{x1:x0,y1:Y(box[2]),x2:x1,y2:Y(box[2])},style:{stroke:"#000",lineWidth:thin?2.5:6}}]};}});
    if(p.out[k].length)series.push({type:"scatter",xAxisIndex:xi,yAxisIndex:yi,silent:true,z:3,symbol:"circle",symbolSize:13,itemStyle:{color:"#000"},data:p.out[k].map(v=>[center,v])});
  });
  series.push({type:"line",xAxisIndex:xi,yAxisIndex:yi,silent:true,z:4,symbol:"none",lineStyle:{color:"#000",width:2.5},data:[[1,p.br[1]],[1,p.br[0]],[2,p.br[0]],[2,p.br[2]]]});
  series.push({type:"scatter",xAxisIndex:xi,yAxisIndex:yi,silent:true,z:4,symbolSize:0,data:[[1.5,p.br[0]]],label:{show:true,position:"top",distance:1,formatter:p.sig,fontFamily:FONT,fontSize:p.sig==="NS."?27:25,color:"#000"}});
});

// N: ROC panel
{const gi=grid.length;grid.push({left:2974,top:2814,width:635,height:632,show:true,borderColor:"#222",borderWidth:2,backgroundColor:"transparent"});
 const axStyle={show:true,onZero:false,lineStyle:{color:"#222",width:2}};
 xAxis.push({gridIndex:gi,type:"value",inverse:true,min:-4.4,max:104.5,name:"Specificity (%)",nameLocation:"middle",nameGap:74,nameMoveOverlap:false,nameTextStyle:{fontFamily:FONT,fontSize:23,color:"#000"},axisLine:axStyle,axisTick:{show:true,length:13,lineStyle:{color:"#222",width:2},customValues:rocTicks},axisLabel:{fontFamily:FONT,fontSize:23,color:"#000",margin:30,customValues:rocTicks},splitLine:{show:false}});
 const yi=yAxis.length;
 yAxis.push({gridIndex:gi,type:"value",min:-4.1,max:104.1,name:"Sensitivity (%)",nameLocation:"middle",nameRotate:90,nameGap:75,nameMoveOverlap:false,nameTextStyle:{fontFamily:FONT,fontSize:23,color:"#000"},axisLine:axStyle,axisTick:{show:true,length:16,lineStyle:{color:"#222",width:2},customValues:rocTicks},axisLabel:{fontFamily:FONT,fontSize:23,color:"#000",rotate:90,margin:36,customValues:rocTicks},splitLine:{show:false}});
 const xi=xAxis.length-1;
 series.push({type:"custom",xAxisIndex:xi,yAxisIndex:yi,silent:true,z:2,data:[[80,50.6]],encode:{x:0,y:1},renderItem(pr,api){
   const pts=rocUpper.map(q=>api.coord(q)).concat(rocLower.slice().reverse().map(q=>api.coord(q)));
   return{type:"polygon",shape:{points:pts},style:{fill:"#00FF00"}};}});
 series.push({type:"line",xAxisIndex:xi,yAxisIndex:yi,silent:true,z:3,symbol:"none",lineStyle:{color:"#BEBEBE",width:2},data:[[104.5,-4.1],[-4.4,104.1]]});
 series.push({type:"line",xAxisIndex:xi,yAxisIndex:yi,silent:true,z:4,symbol:"none",lineStyle:{color:"#111",width:3},data:rocLine});
 series.push({type:"custom",xAxisIndex:xi,yAxisIndex:yi,silent:true,z:5,data:[[rocCross[0],rocCross[1]]],encode:{x:0,y:1},renderItem(pr,api){
   const a=api.coord([rocCross[2],rocCross[1]]),b=api.coord([rocCross[3],rocCross[1]]),c=api.coord([rocCross[0],rocCross[4]]),d=api.coord([rocCross[0],rocCross[5]]);
   const L=(x1,y1,x2,y2)=>({type:"line",shape:{x1,y1,x2,y2},style:{stroke:"#111",lineWidth:2}});
   return{type:"group",children:[L(a[0],a[1],b[0],b[1]),L(c[0],c[1],d[0],d[1]),L(a[0],a[1]-8,a[0],a[1]+8),L(b[0],b[1]-8,b[0],b[1]+8),L(c[0]-6,c[1],c[0]+6,c[1]),L(d[0]-6,d[1],d[0]+6,d[1])]};}});
 addText("Confidence intervals",3291,2784,28.4,{fw:"bold"});
 addText("AUC: 70.7% (62.6%\u201378.8%)",3291,3142,24.4,{al:"left"});
}

const chart=echarts.init(document.getElementById("c"),null,{renderer:"canvas",width:3650,height:3573});
chart.setOption({animation:false,backgroundColor:"#fff",grid,xAxis,yAxis,series,graphic:{elements:graphic}});
</script></body></html>
